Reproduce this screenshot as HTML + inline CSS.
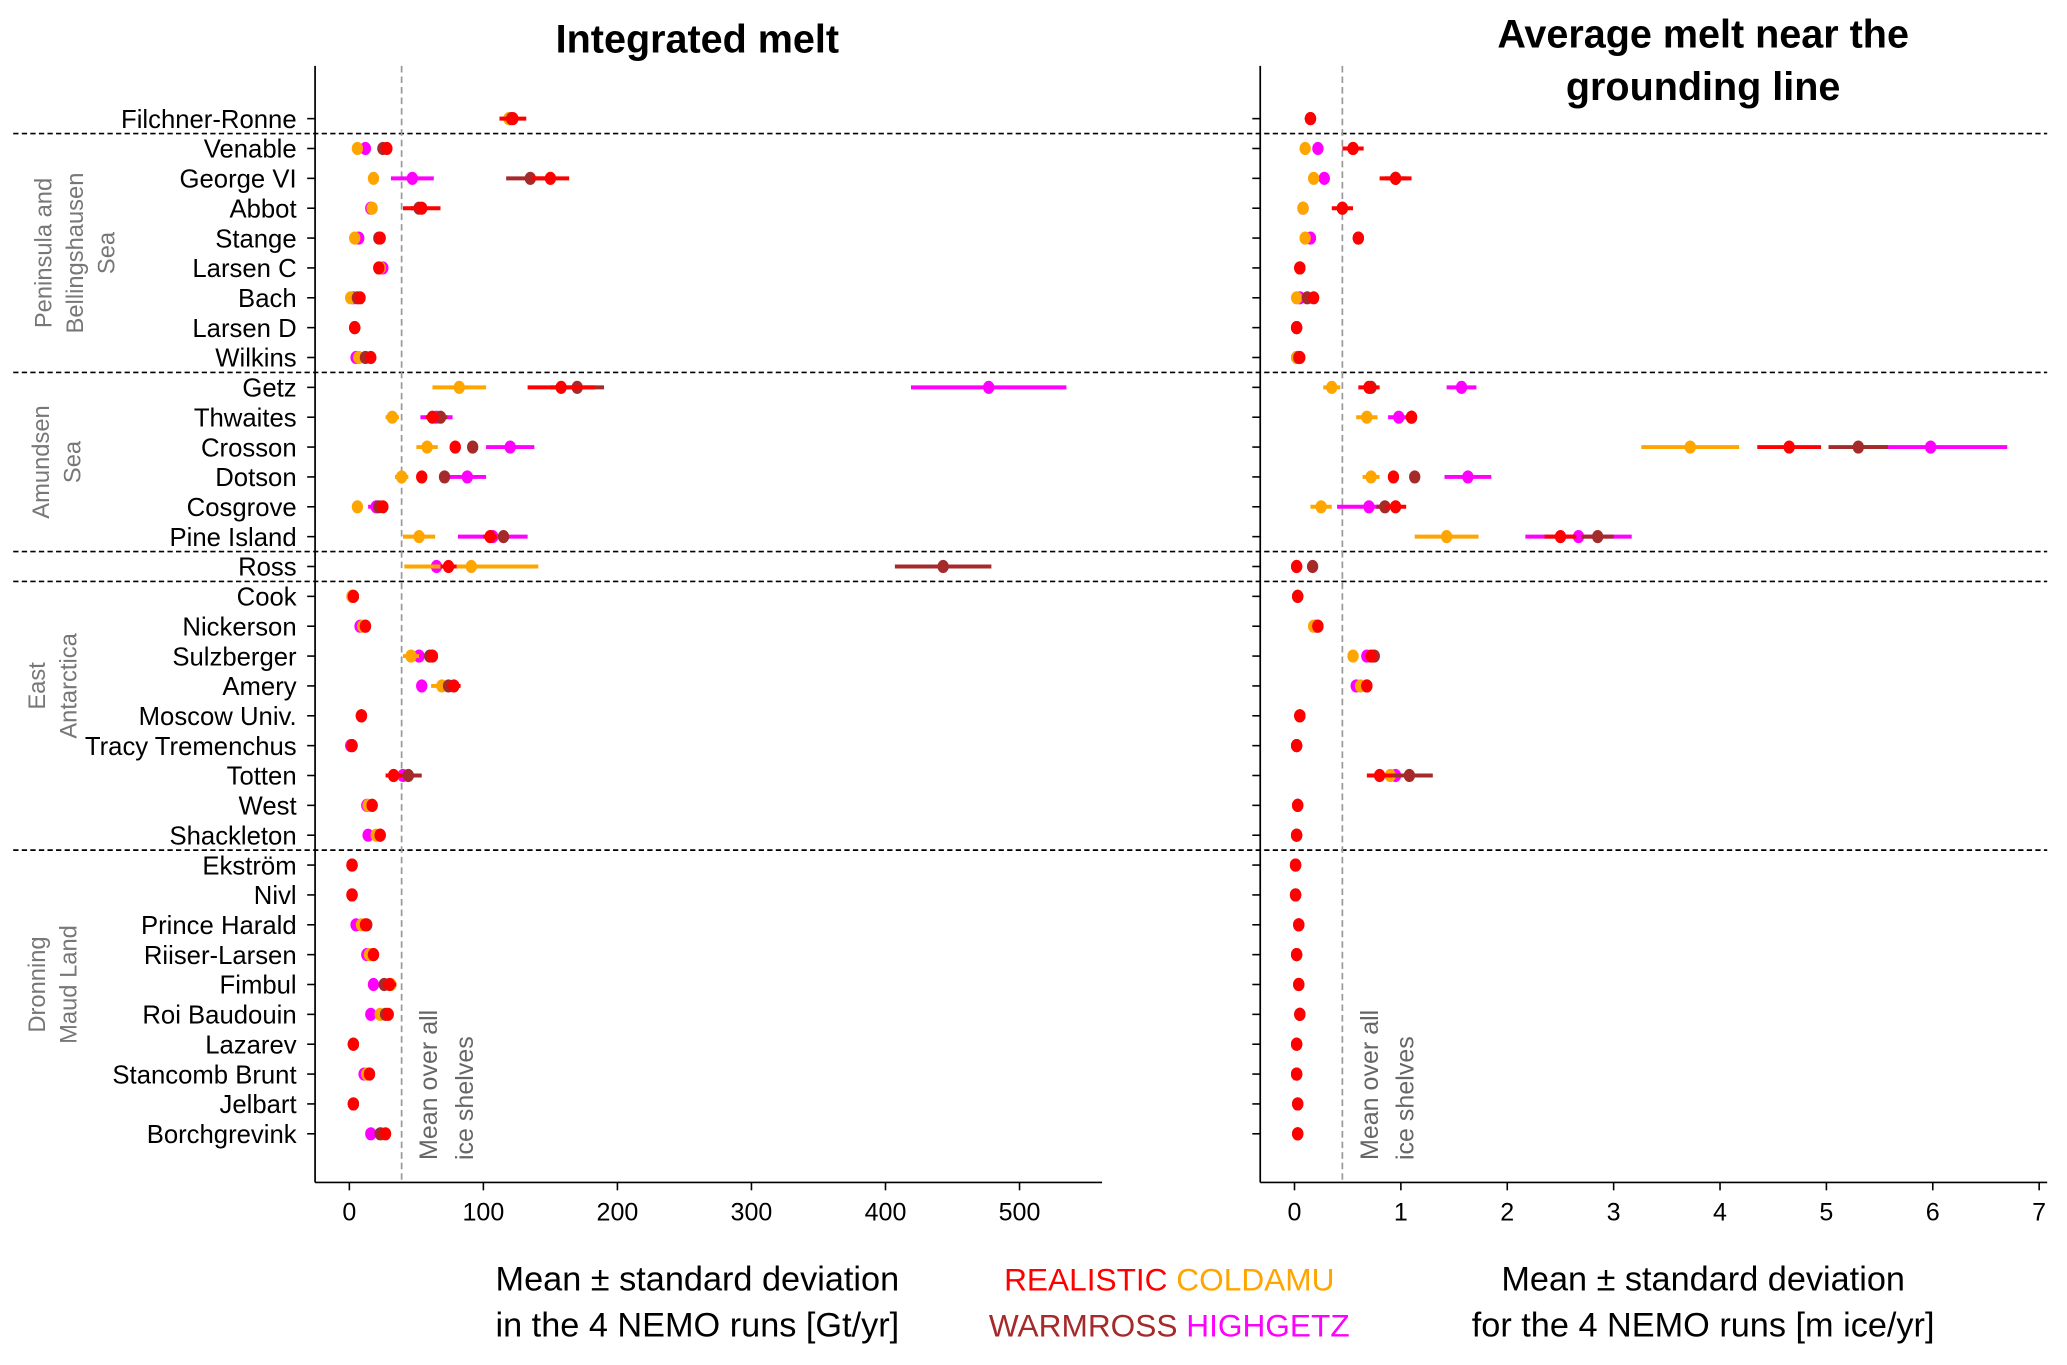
<!DOCTYPE html>
<html><head><meta charset="utf-8"><style>
html,body{margin:0;padding:0;background:#fff;}
svg{display:block;font-family:"Liberation Sans",sans-serif;}
</style></head><body>
<svg id="chart" width="2067" height="1365" viewBox="0 0 1568 1035.5" xmlns="http://www.w3.org/2000/svg">
<text x="529" y="40" text-anchor="middle" font-size="30" font-weight="bold">Integrated melt</text>
<text x="1292" y="36" text-anchor="middle" font-size="30" font-weight="bold">Average melt near the</text>
<text x="1292" y="76" text-anchor="middle" font-size="30" font-weight="bold">grounding line</text>
<text x="529" y="979" text-anchor="middle" font-size="26">Mean ± standard deviation</text>
<text x="529" y="1014" text-anchor="middle" font-size="26">in the 4 NEMO runs [Gt/yr]</text>
<text x="1292" y="979" text-anchor="middle" font-size="26">Mean ± standard deviation</text>
<text x="1292" y="1014" text-anchor="middle" font-size="26">for the 4 NEMO runs [m ice/yr]</text>
<text x="887" y="979" text-anchor="middle" font-size="24"><tspan fill="#ff0000">REALISTIC</tspan> <tspan fill="#ffa500">COLDAMU</tspan></text>
<text x="887" y="1014" text-anchor="middle" font-size="24"><tspan fill="#a52a2a">WARMROSS</tspan> <tspan fill="#ff00ff">HIGHGETZ</tspan></text>
<g id="plot"></g>
</svg>
<script>
const shelves=["Filchner-Ronne","Venable","George VI","Abbot","Stange","Larsen C","Bach","Larsen D","Wilkins","Getz","Thwaites","Crosson","Dotson","Cosgrove","Pine Island","Ross","Cook","Nickerson","Sulzberger","Amery","Moscow Univ.","Tracy Tremenchus","Totten","West","Shackleton","Ekström","Nivl","Prince Harald","Riiser-Larsen","Fimbul","Roi Baudouin","Lazarev","Stancomb Brunt","Jelbart","Borchgrevink"];
const runs=["REALISTIC","COLDAMU","WARMROSS","HIGHGETZ"];
const colors=["#ff0000","#ffa500","#a52a2a","#ff00ff"];
// Integrated melt [Gt/yr]
const intRealistic=[122,28,150,54,23,22,8,4,16,158,62,79,54,25,105,74,3,12,62,78,9,2,33,17,23,2,2,12,18,30,29,3,15,3,27];
const intRealisticSd=[10,4,14,14,4,3,3,1,3,25,5,4,4,4,5,6,1,2,3,5,1,1,6,2,2,1,1,2,2,5,4,1,2,1,3];
const intColdamu=[119,6,18,17,4,23,1,4,7,82,32,58,39,6,52,91,2,10,46,69,9,2,33,14,20,2,2,9,15,31,23,3,13,3,24];
const intColdamuSd=[5,2,2,3,2,2,1,1,2,20,5,8,5,2,12,50,1,2,6,8,1,1,4,2,2,1,1,2,2,3,3,1,2,1,3];
const intWarmross=[121,25,135,52,22,22,6,4,12,170,68,92,71,22,115,443,3,12,60,74,9,2,44,17,23,2,2,13,18,26,27,3,15,3,23];
const intWarmrossSd=[4,3,18,6,2,2,2,1,2,20,5,3,4,3,4,36,1,2,3,4,1,1,10,2,2,1,1,2,2,3,3,1,2,1,3];
const intHighgetz=[120,12,47,16,7,25,3,4,5,477,65,120,88,20,107,65,2,8,52,54,9,1,40,13,14,2,2,5,13,18,16,3,11,3,16];
const intHighgetzSd=[3,3,16,4,2,2,1,1,2,58,12,18,14,6,26,3,1,2,3,4,1,1,3,2,2,1,1,2,2,2,2,1,2,1,2];
// Average melt near grounding line [m ice/yr]
const glRealistic=[0.15,0.55,0.95,0.45,0.6,0.05,0.18,0.02,0.05,0.7,1.1,4.65,0.93,0.95,2.5,0.02,0.03,0.22,0.72,0.68,0.05,0.02,0.8,0.03,0.02,0.01,0.01,0.04,0.02,0.04,0.05,0.02,0.02,0.03,0.03];
const glRealisticSd=[0.02,0.1,0.15,0.1,0.03,0.02,0.03,0.01,0.02,0.1,0.05,0.3,0.05,0.1,0.15,0.01,0.01,0.03,0.04,0.04,0.01,0.01,0.12,0.01,0.01,0.01,0.01,0.01,0.01,0.01,0.01,0.01,0.01,0.01,0.01];
const glColdamu=[0.15,0.1,0.18,0.08,0.1,0.05,0.02,0.02,0.02,0.35,0.68,3.72,0.72,0.25,1.43,0.02,0.03,0.18,0.55,0.62,0.05,0.02,0.9,0.03,0.02,0.01,0.01,0.04,0.02,0.04,0.05,0.02,0.02,0.03,0.03];
const glColdamuSd=[0.02,0.02,0.03,0.02,0.02,0.01,0.01,0.01,0.01,0.08,0.1,0.46,0.08,0.1,0.3,0.01,0.01,0.03,0.05,0.04,0.01,0.01,0.05,0.01,0.01,0.01,0.01,0.01,0.01,0.01,0.01,0.01,0.01,0.01,0.01];
const glWarmross=[0.15,0.55,0.95,0.45,0.6,0.05,0.12,0.02,0.04,0.72,1.1,5.3,1.13,0.85,2.85,0.17,0.03,0.22,0.75,0.68,0.05,0.02,1.08,0.03,0.02,0.01,0.01,0.04,0.02,0.04,0.05,0.02,0.02,0.03,0.03];
const glWarmrossSd=[0.02,0.08,0.1,0.05,0.03,0.02,0.03,0.01,0.02,0.05,0.05,0.28,0.03,0.08,0.15,0.02,0.01,0.03,0.04,0.04,0.01,0.01,0.22,0.01,0.01,0.01,0.01,0.01,0.01,0.01,0.01,0.01,0.01,0.01,0.01];
const glHighgetz=[0.15,0.22,0.28,0.08,0.15,0.05,0.05,0.02,0.02,1.57,0.98,5.98,1.63,0.7,2.67,0.02,0.03,0.2,0.68,0.58,0.05,0.02,0.95,0.03,0.02,0.01,0.01,0.04,0.02,0.04,0.05,0.02,0.02,0.03,0.03];
const glHighgetzSd=[0.02,0.04,0.05,0.02,0.03,0.01,0.02,0.01,0.01,0.14,0.1,0.72,0.22,0.3,0.5,0.01,0.01,0.03,0.04,0.05,0.01,0.01,0.05,0.01,0.01,0.01,0.01,0.01,0.01,0.01,0.01,0.01,0.01,0.01,0.01];
const leftTicks=[0,100,200,300,400,500];
const rightTicks=[0,1,2,3,4,5,6,7];
const groupBreaks=[0.5,8.5,14.5,15.5,24.5];
const leftMean=39, rightMean=0.45;

const NS="http://www.w3.org/2000/svg";
const plotG=document.getElementById('plot');
function mk(tag,attrs,parent){const e=document.createElementNS(NS,tag);for(const k in attrs)e.setAttribute(k,attrs[k]);(parent||plotG).appendChild(e);return e;}
const yOf=i=>90+i*22.65;
const xL=v=>265+v*1.0168;
const xR=v=>982+v*80.7;
const axisBottom=897, axisTop=50;
const drawOrder=[3,1,2,0];

groupBreaks.forEach(b=>{
  const l=mk('line',{x1:10,x2:1553,y1:yOf(b),y2:yOf(b),stroke:'#000','stroke-width':1.3,'stroke-dasharray':'4,2.5'});
  
  
});

function panel(xf,ticks,spineX,rightEdge,meanV,series,sds,pname,showLabels){
  const s=mk('line',{x1:spineX,x2:spineX,y1:axisTop,y2:axisBottom,stroke:'#000','stroke-width':1.3});
  
  
  const b=mk('line',{x1:spineX,x2:rightEdge,y1:axisBottom,y2:axisBottom,stroke:'#000','stroke-width':1.3});
  
  
  ticks.forEach(t=>{
    mk('line',{x1:xf(t),x2:xf(t),y1:axisBottom,y2:axisBottom+6,stroke:'#000','stroke-width':1.2});
    const tx=mk('text',{x:xf(t),y:axisBottom+29,'text-anchor':'middle','font-size':19});
    tx.textContent=t;
    
    
  });
  shelves.forEach((n,i)=>{
    mk('line',{x1:spineX-6,x2:spineX,y1:yOf(i),y2:yOf(i),stroke:'#000','stroke-width':1.2});
    if(showLabels){
      const t=mk('text',{x:spineX-14,y:yOf(i)+7,'text-anchor':'end','font-size':19.5});
      t.textContent=n;
      
      
    }
  });
  const m=mk('line',{x1:xf(meanV),x2:xf(meanV),y1:axisTop,y2:axisBottom,stroke:'#999','stroke-width':1.3,'stroke-dasharray':'5,3'});
  
  
  const mx=xf(meanV);
  [['Mean over all',mx+27],['ice shelves',mx+54]].forEach(([s,x])=>{
    const t=mk('text',{x:x,y:880,'font-size':19,fill:'#666',transform:`rotate(-90 ${x} 880)`});
    t.textContent=s;
    
    
  });
  drawOrder.forEach(si=>{
    const vals=series[si];
    vals.forEach((v,i)=>{
      const sd=sds[si][i], y=yOf(i);
      const e=mk('line',{x1:xf(v-sd),x2:xf(v+sd),y1:y,y2:y,stroke:colors[si],'stroke-width':3});
      
      
      const c=mk('ellipse',{cx:xf(v),cy:y,rx:4.3,ry:5,fill:colors[si]});
      
      
    });
  });
}
panel(xL,leftTicks,239,836,leftMean,[intRealistic,intColdamu,intWarmross,intHighgetz],[intRealisticSd,intColdamuSd,intWarmrossSd,intHighgetzSd],'integrated',true);
panel(xR,rightTicks,956,1553,rightMean,[glRealistic,glColdamu,glWarmross,glHighgetz],[glRealisticSd,glColdamuSd,glWarmrossSd,glHighgetzSd],'grounding',false);

const groups=[[["Peninsula and","Bellingshausen","Sea"],4.5,57],[["Amundsen","Sea"],11.5,43],[["East","Antarctica"],19,40],[["Dronning","Maud Land"],29,40]];
groups.forEach(([lines,c,xc])=>{
  const yc=yOf(c);
  const n=lines.length;
  lines.forEach((s,k)=>{
    const x=xc+(k-(n-1)/2)*24+6;
    const t=mk('text',{x:x,y:yc,'text-anchor':'middle','font-size':18,fill:'#777',transform:`rotate(-90 ${x} ${yc})`});
    t.textContent=s;
    
    
  });
});
</script>
</body></html>
